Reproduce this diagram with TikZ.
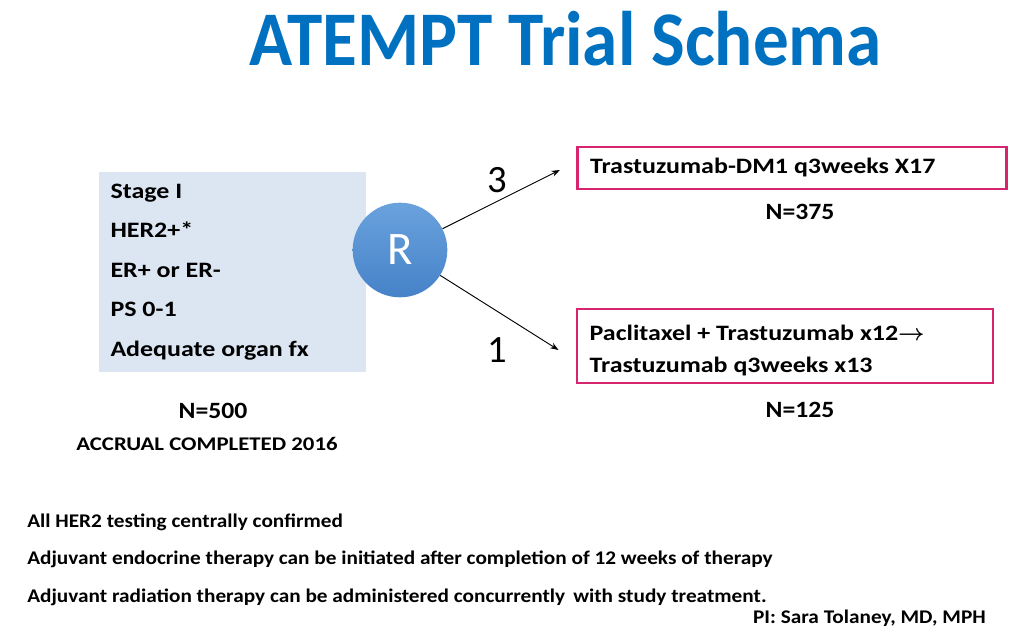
\documentclass[tikz,border=0pt]{standalone}
\usepackage{fontspec}
\setmainfont{Carlito}
\newfontfamily\widefont[FakeStretch=1.18]{Carlito}
\newfontfamily\notefont[FakeStretch=1.1]{Carlito}
\newfontfamily\titlefont[FakeStretch=0.92]{Carlito}
\newcommand\plainspace{\spaceskip 0pt\relax}
\usetikzlibrary{arrows.meta}
\definecolor{titleblue}{HTML}{0070C0}
\definecolor{eligblue}{HTML}{DCE6F2}
\definecolor{armpink}{HTML}{D6246E}
\definecolor{rtop}{HTML}{69A2DD}
\definecolor{rbot}{HTML}{4682C8}
\tikzset{
  armbox/.style={draw=armpink,line width=2.2pt,align=left,inner xsep=9.5pt,
    execute at begin node=\plainspace,
    font=\widefont\fontsize{16.5}{24}\selectfont\bfseries},
  nlabel/.style={anchor=base,inner sep=0pt,font=\notefont\fontsize{17.5}{21}\selectfont\bfseries},
  ratio/.style={anchor=base,font=\fontsize{29}{34}\selectfont},
  note/.style={anchor=base west,inner sep=0pt,font=\notefont\fontsize{14.5}{17}\selectfont\bfseries},
  arm/.style={-{Stealth[length=2.2mm,width=1.6mm]},line width=0.7pt}
}

\begin{document}
\begin{tikzpicture}[x=0.75pt,y=-0.75pt]
  \useasboundingbox (0,0) rectangle (1024,642);
  \node[anchor=base,text=titleblue,font=\titlefont\fontsize{58}{64}\selectfont\bfseries]
    (title) at (566,65) {ATEMPT Trial Schema};

  % eligibility
  \node[fill=eligblue,minimum width=200pt,minimum height=150pt,text width=183pt,
    inner xsep=6.5pt,align=left,execute at begin node=\plainspace,
    font=\widefont\fontsize{16.5}{29.6}\selectfont\bfseries]
    (elig) at (232.5,272) {Stage I\\HER2+*\\ER+ or ER-\\PS 0-1\\Adequate organ fx};
  \node[nlabel] (n500) at (213,418) {N=500};
  \node[nlabel,font=\widefont\fontsize{14.5}{17}\selectfont\bfseries] (accrual) at (207,450)
    {ACCRUAL COMPLETED 2016};

  % randomisation
  \node[circle,minimum size=71pt,inner sep=0pt,top color=rtop,bottom color=rbot,
    text=white,font=\fontsize{35}{40}\selectfont] (R) at (400,250) {R};

  % arms
  \node[armbox,minimum height=31.5pt,text width=303pt] (tdm1) at (792,168)
    {Trastuzumab-DM1 q3weeks X17};
  \node[armbox,minimum height=55.5pt,text width=293pt] (tp) at (785,346)
    {\rule{0pt}{18pt}Paclitaxel + Trastuzumab x12{\fontsize{17}{24}\selectfont\boldmath$\rightarrow$}\\Trastuzumab q3weeks x13};
  \node[nlabel] (n375) at (800,219) {N=375};
  \node[nlabel] (n125) at (800,417) {N=125};

  \coordinate (tdm1end) at ([xshift=-12pt,yshift=-1.5pt]tdm1.west);
  \coordinate (tpend) at ([xshift=-12.75pt,yshift=-3pt]tp.west);
  \draw[arm] (R) -- (tdm1end);
  \draw[arm] (R) -- (tpend);
  \node[ratio] (three) at (497,192) {3};
  \node[ratio] (one) at (497,362) {1};

  % notes
  \node[note] (note1) at (27,527) {All HER2 testing centrally confirmed};
  \node[note] (note2) at (27,564) {Adjuvant endocrine therapy can be initiated after completion of 12 weeks of therapy};
  \node[note] (note3) at (27,602) {Adjuvant radiation therapy can be administered concurrently\, with study treatment.};
  \node[note,anchor=base east] (pi) at (986,623) {PI: Sara Tolaney, MD, MPH};
\end{tikzpicture}
\end{document}
